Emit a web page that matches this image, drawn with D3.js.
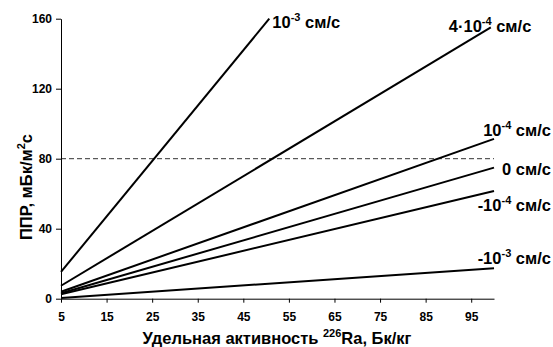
<!DOCTYPE html>
<html>
<head>
<meta charset="utf-8">
<script src="https://cdn.jsdelivr.net/npm/d3@7"></script>
<style>
  body { margin: 0; background: #fff; }
  svg text { font-family: "Liberation Sans", Arial, sans-serif; font-weight: bold; fill: #000; }
</style>
</head>
<body>
<svg id="chart"></svg>
<script>
'use strict';

// tick values
const xTicks = [5, 15, 25, 35, 45, 55, 65, 75, 85, 95];
const yTicks = [0, 40, 80, 120, 160];

// series: straight lines, start at x = 5
const seriesBase = ['10', '4·10', '10', '0', '-10', '-10'];
const seriesExp = ['-3', '-4', '-4', '', '-4', '-3'];
const startY = [15.3, 7.4, 4.0, 3.1, 2.5, 0.4];
const endX = [50.7, 99.3, 100, 100, 100, 100];
const endY = [160, 155, 91.3, 74.9, 61.5, 17.4];
const thresholdY = 80;

(function() {
  const width = 553;
  const height = 347;
  const margin = {top: 18.7, right: 59, bottom: 48.3, left: 61};

  const svg = d3.select('#chart')
      .attr('width', width)
      .attr('height', height);

  const x = d3.scaleLinear()
      .domain([5, 100])
      .range([margin.left, width - margin.right]);
  const y = d3.scaleLinear()
      .domain([0, 160])
      .range([height - margin.bottom, margin.top]);

  // dashed reference line
  svg.append('line')
      .attr('x1', x(5))
      .attr('x2', x(100))
      .attr('y1', y(thresholdY))
      .attr('y2', y(thresholdY))
      .attr('stroke', '#333')
      .attr('stroke-width', 1)
      .attr('stroke-dasharray', '5 3');

  // axes
  const xAxis = svg.append('g')
      .attr('transform', `translate(0, ${y(0)})`)
      .call(d3.axisBottom(x).tickValues(xTicks).tickSize(4).tickPadding(10).tickSizeOuter(0));
  const yAxis = svg.append('g')
      .attr('transform', `translate(${x(5)}, 0)`)
      .call(d3.axisLeft(y).tickValues(yTicks).tickSize(5).tickPadding(4).tickSizeOuter(0));

  [xAxis, yAxis].forEach(function(g) {
    g.selectAll('.domain').attr('stroke', '#000').attr('stroke-width', 1);
    g.selectAll('.tick line').attr('stroke', '#000');
    g.selectAll('.tick text')
        .attr('font-family', '"Liberation Sans", Arial, sans-serif')
        .attr('font-weight', 'bold')
        .attr('font-size', 12)
        .attr('fill', '#000');
  });

  // lines
  const line = d3.line().x(d => x(d[0])).y(d => y(d[1]));
  seriesBase.forEach(function(name, i) {
    svg.append('path')
        .datum([[5, startY[i]], [endX[i], endY[i]]])
        .attr('fill', 'none')
        .attr('stroke', '#000')
        .attr('stroke-width', 2)
        .attr('d', line);
  });

  // label placement relative to each line's end point
  const labelPos = [
    {dx: 3, dy: 9, anchor: 'start'},
    {dx: -42, dy: 5, anchor: 'start'},
    {abs: 551, dy: -2.5, anchor: 'end'},
    {abs: 551, dy: 7, anchor: 'end'},
    {abs: 551, dy: 19.5, anchor: 'end'},
    {abs: 551, dy: -4, anchor: 'end'}
  ];

  seriesBase.forEach(function(name, i) {
    const p = labelPos[i];
    const px = p.abs !== undefined ? p.abs : x(endX[i]) + p.dx;
    const t = svg.append('text')
        .attr('x', px)
        .attr('y', y(endY[i]) + p.dy)
        .attr('text-anchor', p.anchor)
        .attr('font-size', 16.5);
    t.append('tspan').text(name);
    if (seriesExp[i]) {
      t.append('tspan').attr('font-size', 11).attr('dy', -7).text(seriesExp[i]);
      t.append('tspan').attr('dy', 7).text(' см/с');
    } else {
      t.append('tspan').text(' см/с');
    }
  });

  // axis titles
  const xt = svg.append('text')
      .attr('x', 277)
      .attr('y', 344)
      .attr('text-anchor', 'middle')
      .attr('font-size', 16.5);
  xt.append('tspan').text('Удельная активность ');
  xt.append('tspan').attr('font-size', 11).attr('dy', -7).text('226');
  xt.append('tspan').attr('dy', 7).text('Ra, Бк/кг');

  const yt = svg.append('text')
      .attr('transform', 'translate(32, 187) rotate(-90)')
      .attr('text-anchor', 'middle')
      .attr('font-size', 16.5);
  yt.append('tspan').text('ППР, мБк/м');
  yt.append('tspan').attr('font-size', 11).attr('dy', -7).text('2');
  yt.append('tspan').attr('dy', 7).text('с');
})();
</script>
</body>
</html>
